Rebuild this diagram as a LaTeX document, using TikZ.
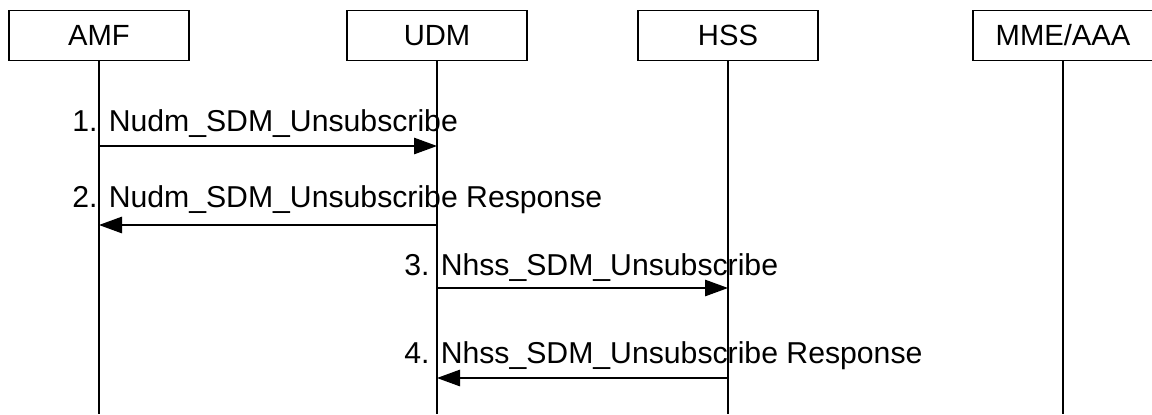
\documentclass[tikz,border=0pt]{standalone}
\usepackage{fontspec}
\setmainfont{Liberation Sans}
\usetikzlibrary{positioning,calc,arrows.meta}

\begin{document}
\begin{tikzpicture}[x=0.5pt,y=-0.5pt,
		entity/.style={draw=black,line width=0.6pt,minimum width=90pt,minimum height=25pt,inner sep=0pt,font=\fontsize{14.6}{17}\selectfont},
		life/.style={line width=0.6pt},
		msg/.style={line width=0.6pt,-{Triangle[length=11.5pt,width=8.25pt]}},
		msglabel/.style={anchor=base west,inner sep=0pt,font=\fontsize{15.1}{17}\selectfont}]
		\useasboundingbox (0,0) rectangle (1152,414);
		
		\node[entity] (amf) at (99,35.5) {AMF};
		\node[entity] (udm) at (437,35.5) {UDM};
		\node[entity] (hss) at (728,35.5) {HSS};
		\node[entity] (mme) at (1063,35.5) {MME/AAA};
		
		\foreach \n in {amf,udm,hss,mme}
			\draw[life] (\n.south) -- (\n.south |- 0,414);
		
		\draw[msg] (amf |- 0,146) -- (udm |- 0,146);
		\draw[msg] (udm |- 0,225) -- (amf |- 0,225);
		\draw[msg] (udm |- 0,288) -- (hss |- 0,288);
		\draw[msg] (hss |- 0,378) -- (udm |- 0,378);
		
		\node[msglabel] (l1) at ($(amf |- 0,131)+(-27,0)$) {1. Nudm\_SDM\_Unsubscribe};
		\node[msglabel] (l2) at ($(amf |- 0,207)+(-27,0)$) {2. Nudm\_SDM\_Unsubscribe Response};
		\node[msglabel] (l3) at ($(udm |- 0,275)+(-33,0)$) {3. Nhss\_SDM\_Unsubscribe};
		\node[msglabel] (l4) at ($(udm |- 0,363)+(-33,0)$) {4. Nhss\_SDM\_Unsubscribe Response};
	\end{tikzpicture}
\end{document}
